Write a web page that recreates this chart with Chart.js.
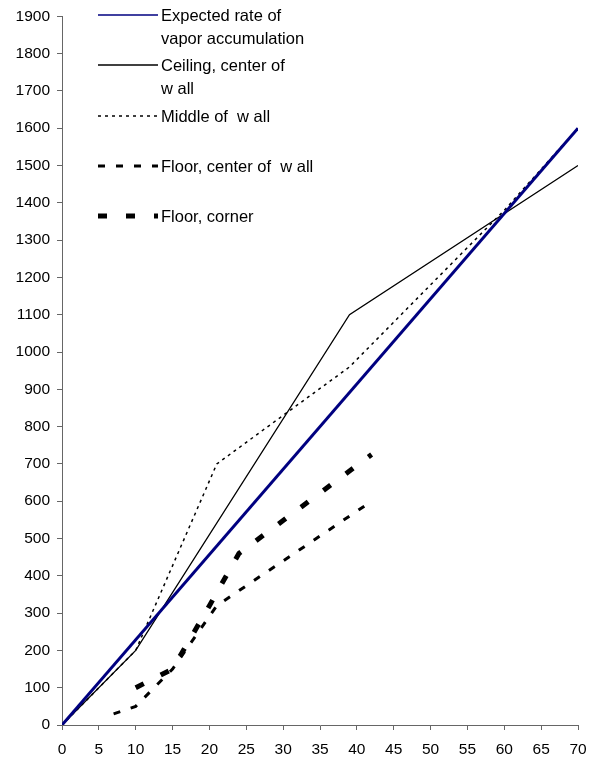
<!DOCTYPE html>
<html>
<head>
<meta charset="utf-8">
<script src="https://cdn.jsdelivr.net/npm/chart.js@4"></script>
<style>
  html, body { margin: 0; padding: 0; background: #fff; }
  #wrap { width: 597px; height: 761px; }
</style>
</head>
<body>
<div id="wrap"><canvas id="lineChart" width="597" height="761"></canvas></div>
<script>
// values (x = time, y = vapor)
var expectedX = [0, 70];
var expectedY = [0, 1600];
var ceilingX = [0, 10, 39, 70];
var ceilingY = [0, 200, 1100, 1500];
var middleX = [0, 10, 21, 30, 39, 60, 70];
var middleY = [0, 200, 700, 830, 960, 1380, 1600];
var floorCenterX = [7, 10, 15, 21, 30, 42];
var floorCenterY = [30, 50, 150, 320, 440, 600];
var floorCornerX = [10, 15, 20, 24, 42];
var floorCornerY = [100, 150, 320, 460, 725];

var xTicks = [0, 70, 5];
var yTicks = [0, 1900, 100];

var labels = [
    ["Expected rate of", "vapor accumulation"],
    ["Ceiling, center of", "w all"],
    ["Middle of  w all"],
    ["Floor, center of  w all"],
    ["Floor, corner"]
];

function pts(xs, ys) {
    return xs.map(function (x, i) { return { x: x, y: ys[i] }; });
}

var fontFam = "'Liberation Sans', Arial, sans-serif";

// legend drawn by hand so labels can wrap onto two lines
var sideLegend = {
    id: "sideLegend",
    afterDraw: function (chart) {
        var c = chart.ctx;
        var rows = [15, 65, 116, 166, 216];
        var widths = [1.5, 1.5, 1.5, 3, 5];
        c.save();
        c.font = "16.5px " + fontFam;
        c.textBaseline = "middle";
        c.fillStyle = "#000";
        chart.data.datasets.forEach(function (ds, i) {
            var y = rows[i];
            c.beginPath();
            c.strokeStyle = ds.borderColor;
            c.lineWidth = widths[i];
            c.setLineDash(ds.borderDash || []);
            c.moveTo(98, y);
            c.lineTo(158, y);
            c.stroke();
            c.setLineDash([]);
            labels[i].forEach(function (t, k) {
                c.fillText(t, 161, y + 1 + k * 23);
            });
        });
        c.restore();
    }
};

var ctx = document.getElementById("lineChart").getContext("2d");
var lineChart = new Chart(ctx, {
    type: "line",
    data: {
        datasets: [{
            data: pts(expectedX, expectedY),
            borderColor: "#000080",
            borderWidth: 3
        }, {
            data: pts(ceilingX, ceilingY),
            borderColor: "#000",
            borderWidth: 1.3
        }, {
            data: pts(middleX, middleY),
            borderColor: "#000",
            borderWidth: 1.5,
            borderDash: [3, 4]
        }, {
            data: pts(floorCenterX, floorCenterY),
            borderColor: "#000",
            borderWidth: 3,
            borderDash: [7, 11]
        }, {
            data: pts(floorCornerX, floorCornerY),
            borderColor: "#000",
            borderWidth: 5,
            borderDash: [9, 19]
        }]
    },
    options: {
        responsive: false,
        animation: false,
        layout: { padding: { top: 15, right: 19, left: 0, bottom: 0 } },
        elements: {
            point: { radius: 0 },
            line: { tension: 0, fill: false, borderCapStyle: "butt" }
        },
        scales: {
            x: {
                type: "linear",
                min: xTicks[0],
                max: xTicks[1],
                afterFit: function (s) { s.height = 36; },
                border: { color: "#666", width: 1 },
                grid: { drawOnChartArea: false, tickLength: 5, color: "#666" },
                ticks: {
                    stepSize: xTicks[2],
                    color: "#000",
                    padding: 10,
                    maxRotation: 0,
                    font: { family: fontFam, size: 15.5 }
                }
            },
            y: {
                min: yTicks[0],
                max: yTicks[1],
                afterFit: function (s) { s.width = 62; },
                border: { color: "#666", width: 1 },
                grid: { drawOnChartArea: false, tickLength: 5, color: "#666" },
                ticks: {
                    stepSize: yTicks[2],
                    color: "#000",
                    padding: 7,
                    font: { family: fontFam, size: 15.5 },
                    callback: function (v) { return String(v); }
                }
            }
        },
        plugins: {
            legend: { display: false },
            tooltip: { enabled: false }
        }
    },
    plugins: [sideLegend]
});
</script>
</body>
</html>
